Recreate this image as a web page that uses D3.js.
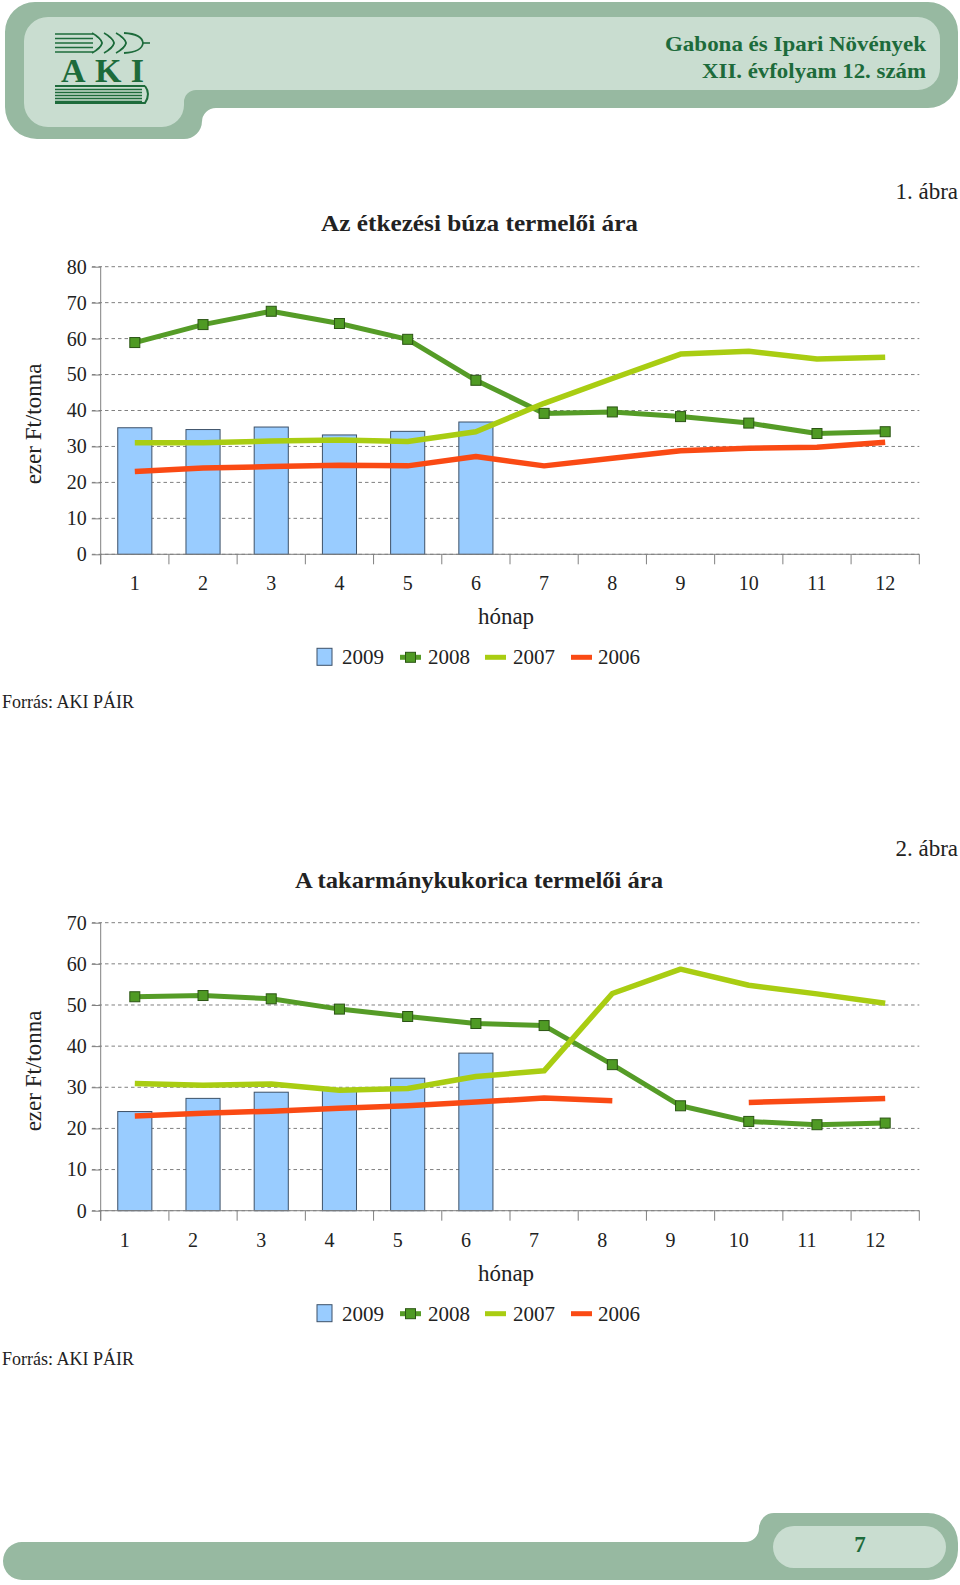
<!DOCTYPE html>
<html>
<head>
<meta charset="utf-8">
<script src="https://cdn.jsdelivr.net/npm/d3@7/dist/d3.min.js"></script>
<style>
  html, body { margin: 0; padding: 0; background: #fff; }
  svg { display: block; }
  svg text { font-family: "Liberation Serif", "DejaVu Serif", serif !important; }
</style>
</head>
<body>
<svg id="page" width="960" height="1585"></svg>
<script>
// ---------------- DATA ----------------
const months = ["1","2","3","4","5","6","7","8","9","10","11","12"];
const seriesNames = ["2009", "2008", "2007", "2006"];

// Chart 1: Az étkezési búza termelői ára (ezer Ft/tonna)
const wheat2009 = [35.2, 34.7, 35.4, 33.2, 34.2, 36.8];
const wheat2008 = [58.9, 63.9, 67.6, 64.2, 59.8, 48.4, 39.2, 39.6, 38.3, 36.5, 33.6, 34.1];
const wheat2007 = [31.0, 31.0, 31.5, 31.8, 31.4, 34.1, 42.0, 48.9, 55.7, 56.5, 54.3, 54.8];
const wheat2006 = [23.0, 24.0, 24.4, 24.8, 24.6, 27.2, 24.6, 26.7, 28.8, 29.5, 29.8, 31.2];
const wheatTicks = [0, 10, 20, 30, 40, 50, 60, 70, 80];

// Chart 2: A takarmánykukorica termelői ára (ezer Ft/tonna)
const corn2009 = [24.1, 27.3, 28.8, 29.7, 32.2, 38.3];
const corn2008 = [52.0, 52.3, 51.5, 49.0, 47.2, 45.5, 45.0, 35.5, 25.5, 21.7, 20.9, 21.3];
const corn2007 = [30.9, 30.5, 30.8, 29.3, 29.7, 32.6, 34.0, 52.8, 58.7, 54.8, 52.7, 50.4];
const corn2006 = [23.0, 23.7, 24.2, 24.9, 25.5, 26.4, 27.4, 26.7, null, 26.3, 26.8, 27.3];
const cornTicks = [0, 10, 20, 30, 40, 50, 60, 70];

// ---------------- STYLE ----------------
const C = {
  outer: "#97b9a1", inner: "#c9ddd0", brand: "#1d6b3b",
  bar: "#99ccff", barStroke: "#3d5168",
  s2008: "#559c27", s2008mk: "#4f9a24", s2008mkStroke: "#2b5514",
  s2007: "#a9cd12", s2006: "#fa4a14",
  grid: "#808080", axis: "#808080", text: "#222"
};
const SERIF = "Liberation Serif, DejaVu Serif, serif";

const svg = d3.select("#page");
svg.append("rect").attr("width", 960).attr("height", 1585).attr("fill", "#fff");

// ---------------- HEADER ----------------
const hdr = svg.append("g");
hdr.append("path").attr("fill", C.outer).attr("d",
  "M35,2 H928 A30 30 0 0 1 958,32 V78 A30 30 0 0 1 928,108 H216 A14 14 0 0 0 202,122 " +
  "V121 A18 18 0 0 1 184,139 H37 A32 32 0 0 1 5,107 V32 A30 30 0 0 1 35,2 Z");
hdr.append("path").attr("fill", C.inner).attr("d",
  "M48,17 H918 A22 22 0 0 1 940,39 V68 A22 22 0 0 1 918,90 H196 A12 12 0 0 0 184,102 " +
  "V105 A22 22 0 0 1 162,127 H48 A24 24 0 0 1 24,103 V41 A24 24 0 0 1 48,17 Z");

// logo: wheat
const logo = hdr.append("g").attr("stroke", C.brand).attr("fill", "none");
[34, 38.5, 43, 47.5, 52].forEach(y => {
  logo.append("line").attr("x1", 55).attr("x2", 93).attr("y1", y).attr("y2", y).attr("stroke-width", 1.6);
});
[92, 104, 116].forEach(x => {
  logo.append("path").attr("d", `M${x},33 Q${x+9},38 ${x+10},43 Q${x+9},48 ${x},53`).attr("stroke-width", 1.6);
  logo.append("path").attr("d", `M${x+4},36 Q${x+10},40 ${x+10},43 Q${x+10},46 ${x+4},50`).attr("stroke-width", 1.2);
});
logo.append("path").attr("d", "M124,33 Q142,34 143,43 Q142,52 124,53").attr("stroke-width", 1.8);
logo.append("line").attr("x1", 143).attr("x2", 150).attr("y1", 43).attr("y2", 43).attr("stroke-width", 1.6);
hdr.append("text").attr("x", 61).attr("y", 82)
  .attr("font-size", 34).attr("font-weight", "bold").attr("fill", C.brand)
  .attr("textLength", 83).attr("lengthAdjust", "spacing")
  .text("AKI");
// logo: book
hdr.append("line").attr("x1", 55).attr("x2", 145).attr("y1", 86).attr("y2", 86).attr("stroke", C.brand).attr("stroke-width", 2.2);
[89.5, 92.5, 95.5, 98.5, 101.5].forEach(y => {
  hdr.append("line").attr("x1", 55).attr("x2", 142).attr("y1", y).attr("y2", y).attr("stroke", C.brand).attr("stroke-width", 1.4);
});
hdr.append("path").attr("d", "M145,86 Q151,94 145,103 L55,103").attr("fill", "none").attr("stroke", C.brand).attr("stroke-width", 2);

hdr.append("text").attr("x", 665).attr("y", 51)
  .attr("font-size", 22).attr("font-weight", "bold").attr("fill", C.brand)
  .attr("textLength", 261).attr("lengthAdjust", "spacingAndGlyphs").text("Gabona és Ipari Növények");
hdr.append("text").attr("x", 702).attr("y", 78)
  .attr("font-size", 22).attr("font-weight", "bold").attr("fill", C.brand)
  .attr("textLength", 224).attr("lengthAdjust", "spacingAndGlyphs").text("XII. évfolyam 12. szám");

// ---------------- FOOTER ----------------
const ftr = svg.append("g");
ftr.append("path").attr("fill", C.outer).attr("d",
  "M22,1542 H745 A14 14 0 0 0 759,1528 A15 15 0 0 1 774,1513 H928 A30 30 0 0 1 958,1543 " +
  "V1550 A30 30 0 0 1 928,1580 H22 A19 19 0 0 1 3,1561 A19 19 0 0 1 22,1542 Z");
ftr.append("rect").attr("x", 773).attr("y", 1526).attr("width", 173).attr("height", 42).attr("rx", 21).attr("fill", C.inner);
ftr.append("text").attr("x", 860).attr("y", 1552).attr("text-anchor", "middle")
  .attr("font-size", 23).attr("font-weight", "bold").attr("fill", C.brand).text("7");

// ---------------- CHART FUNCTION ----------------
function drawChart(cfg) {
  const g = svg.append("g");
  const x = d3.scaleBand().domain(months).range([100.7, 919.3]).paddingInner(0).paddingOuter(0);
  const y = d3.scaleLinear().domain([0, d3.max(cfg.ticks)]).range([cfg.y0, cfg.yTop]);

  // figure label and title
  g.append("text").attr("x", 958).attr("y", cfg.figY).attr("text-anchor", "end")
    .attr("font-size", 23).attr("fill", C.text).text(cfg.fig);
  g.append("text").attr("x", cfg.titleX).attr("y", cfg.titleY)
    .attr("font-size", 24).attr("font-weight", "bold").attr("fill", C.text)
    .attr("textLength", cfg.titleW).attr("lengthAdjust", "spacingAndGlyphs").text(cfg.title);

  // gridlines (dashed)
  g.append("g").selectAll("line").data(cfg.ticks).join("line")
    .attr("x1", 92).attr("x2", 919.3)
    .attr("y1", d => y(d)).attr("y2", d => y(d))
    .attr("stroke", C.grid).attr("stroke-width", 1).attr("stroke-dasharray", "3.5,3");

  // y axis
  const yAxis = d3.axisLeft(y).tickValues(cfg.ticks).tickSize(9).tickPadding(5);
  const ya = g.append("g").attr("transform", "translate(100.7,0)").call(yAxis)
    .attr("font-family", SERIF).attr("font-size", 20);
  ya.select(".domain").attr("stroke", C.axis).attr("d", `M0,${cfg.y0 + 10}V${cfg.yTop}`);
  ya.selectAll(".tick line").attr("stroke", C.axis);
  ya.selectAll(".tick text").attr("fill", C.text).style("font-family", SERIF);

  // bars (2009)
  const barW = x.bandwidth() * 0.5;
  g.append("g").selectAll("rect").data(cfg.s2009).join("rect")
    .attr("x", (d, i) => x(months[i]) + (x.bandwidth() - barW) / 2)
    .attr("width", barW)
    .attr("y", d => y(d)).attr("height", d => y(0) - y(d))
    .attr("fill", C.bar).attr("stroke", C.barStroke).attr("stroke-width", 1);

  // x axis
  const xa = g.append("g");
  xa.append("line").attr("x1", 100.7).attr("x2", 919.3).attr("y1", cfg.y0).attr("y2", cfg.y0)
    .attr("stroke", C.axis).attr("stroke-width", 1);
  const bounds = months.map(m => x(m)).concat([x.range()[1]]);
  xa.selectAll("line.tk").data(bounds).join("line").attr("class", "tk")
    .attr("x1", d => d).attr("x2", d => d).attr("y1", cfg.y0).attr("y2", cfg.y0 + 10)
    .attr("stroke", C.axis).attr("stroke-width", 1);
  xa.selectAll("text").data(months).join("text")
    .attr("x", d => x(d) + x.bandwidth() / 2 + cfg.labelShift)
    .attr("y", cfg.y0 + 36).attr("text-anchor", "middle")
    .attr("font-size", 20).attr("fill", C.text).text(d => d);

  const cx = i => x(months[i]) + x.bandwidth() / 2;
  const line = d3.line().defined(d => d != null).x((d, i) => cx(i)).y(d => y(d));

  // 2008
  g.append("path").datum(cfg.s2008).attr("d", line).attr("fill", "none")
    .attr("stroke", C.s2008).attr("stroke-width", 5).attr("stroke-linejoin", "round");
  g.append("g").selectAll("rect").data(cfg.s2008).join("rect")
    .attr("x", (d, i) => cx(i) - 5).attr("y", d => y(d) - 5).attr("width", 10).attr("height", 10)
    .attr("fill", C.s2008mk).attr("stroke", C.s2008mkStroke).attr("stroke-width", 1);
  // 2007
  g.append("path").datum(cfg.s2007).attr("d", line).attr("fill", "none")
    .attr("stroke", C.s2007).attr("stroke-width", 5.5).attr("stroke-linejoin", "round");
  // 2006
  g.append("path").datum(cfg.s2006).attr("d", line).attr("fill", "none")
    .attr("stroke", C.s2006).attr("stroke-width", 5.5).attr("stroke-linejoin", "round");

  // axis titles
  g.append("text").attr("transform", `translate(41,${cfg.yLabelY}) rotate(-90)`)
    .attr("text-anchor", "middle").attr("font-size", 23).attr("fill", C.text).text("ezer Ft/tonna");
  g.append("text").attr("x", 506).attr("y", cfg.y0 + 70).attr("text-anchor", "middle")
    .attr("font-size", 23).attr("fill", C.text).text("hónap");

  // legend
  const ly = cfg.y0 + 103;
  const lg = g.append("g");
  lg.append("rect").attr("x", 317).attr("y", ly - 9).attr("width", 15).attr("height", 17)
    .attr("fill", C.bar).attr("stroke", C.barStroke).attr("stroke-width", 1);
  lg.append("line").attr("x1", 400).attr("x2", 421).attr("y1", ly).attr("y2", ly).attr("stroke", C.s2008).attr("stroke-width", 5);
  lg.append("rect").attr("x", 405.5).attr("y", ly - 5).attr("width", 10).attr("height", 10)
    .attr("fill", C.s2008mk).attr("stroke", C.s2008mkStroke).attr("stroke-width", 1);
  lg.append("line").attr("x1", 485).attr("x2", 506).attr("y1", ly).attr("y2", ly).attr("stroke", C.s2007).attr("stroke-width", 5);
  lg.append("line").attr("x1", 571).attr("x2", 592).attr("y1", ly).attr("y2", ly).attr("stroke", C.s2006).attr("stroke-width", 5);
  const lx = [342, 428, 513, 598];
  lg.selectAll("text").data(seriesNames).join("text")
    .attr("x", (d, i) => lx[i]).attr("y", ly + 7).attr("font-size", 21).attr("fill", C.text).text(d => d);

  // source
  g.append("text").attr("x", 2).attr("y", cfg.y0 + 154).attr("font-size", 18).attr("fill", C.text).text("Forrás: AKI PÁIR");
}

drawChart({
  fig: "1. ábra", figY: 199, title: "Az étkezési búza termelői ára", titleX: 321, titleW: 317, titleY: 231,
  ticks: wheatTicks, y0: 554.3, yTop: 266.7, yLabelY: 424, labelShift: 0,
  s2009: wheat2009, s2008: wheat2008, s2007: wheat2007, s2006: wheat2006
});
drawChart({
  fig: "2. ábra", figY: 856, title: "A takarmánykukorica termelői ára", titleX: 295, titleW: 368, titleY: 888,
  ticks: cornTicks, y0: 1210.7, yTop: 922.7, yLabelY: 1071, labelShift: -10,
  s2009: corn2009, s2008: corn2008, s2007: corn2007, s2006: corn2006
});
</script>
</body>
</html>
